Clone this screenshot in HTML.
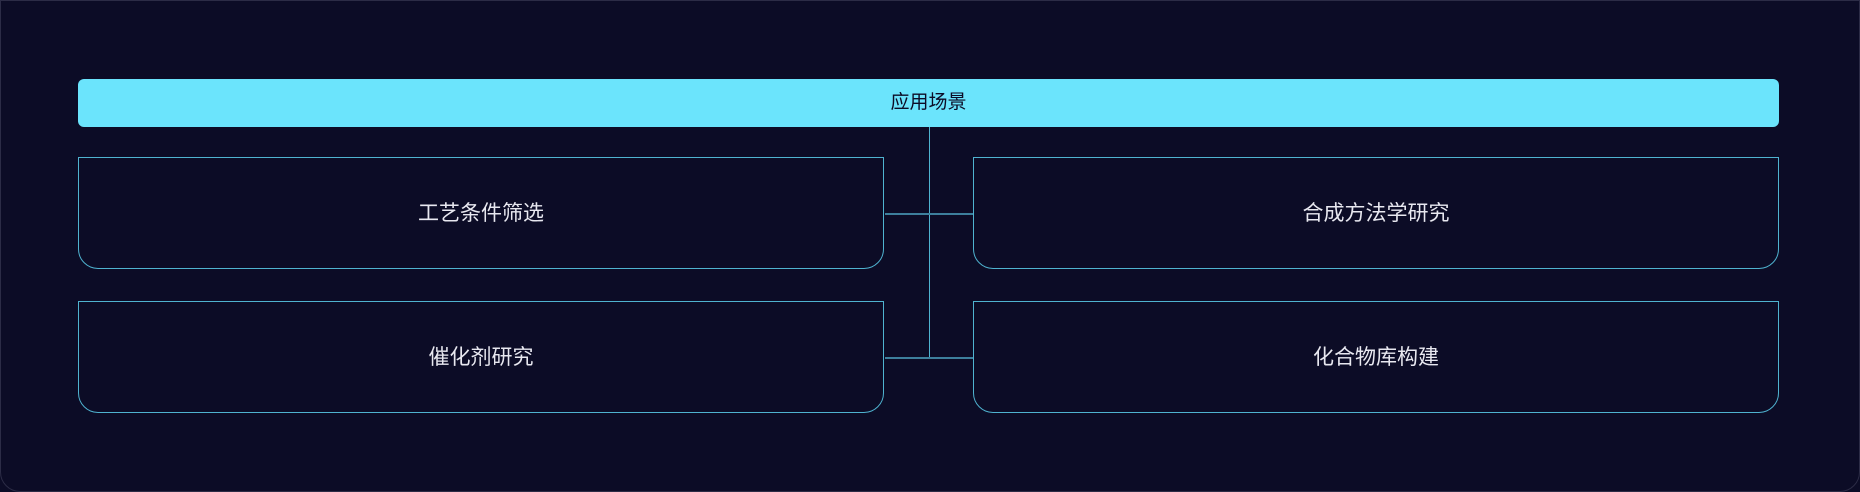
<!DOCTYPE html>
<html><head><meta charset="utf-8"><style>
html,body{margin:0;padding:0;background:#0c0c26;}
.wrap{position:relative;width:1860px;height:492px;box-sizing:border-box;border:1px solid #2c2c46;border-radius:0 0 20px 20px;background:#0c0c26;overflow:hidden;font-family:"Liberation Sans","Noto Sans CJK SC",sans-serif;}
.hdr{position:absolute;left:77px;top:78px;width:1701px;height:48px;background:#6be4fc;border-radius:6px;color:#0c0c26;font-size:19px;line-height:48px;text-align:center;}
.box{position:absolute;width:806px;height:112px;box-sizing:border-box;border:1px solid #4fb3d0;border-radius:0 0 20px 20px;color:#e8e8f0;font-size:21px;line-height:112px;text-align:center;}
.l{position:absolute;background:#3d7f9c;}
</style></head><body><div class="wrap">
<div class="hdr">应用场景</div>
<div class="l" style="left:928px;top:126px;width:1px;height:231px;background:#4fb3d0"></div>
<div class="l" style="left:884px;top:212px;width:88px;height:2px"></div>
<div class="l" style="left:884px;top:356px;width:88px;height:2px"></div>
<div class="box" style="left:77px;top:156px">工艺条件筛选</div>
<div class="box" style="left:972px;top:156px;width:806px">合成方法学研究</div>
<div class="box" style="left:77px;top:300px">催化剂研究</div>
<div class="box" style="left:972px;top:300px;width:806px">化合物库构建</div>
</div></body></html>
